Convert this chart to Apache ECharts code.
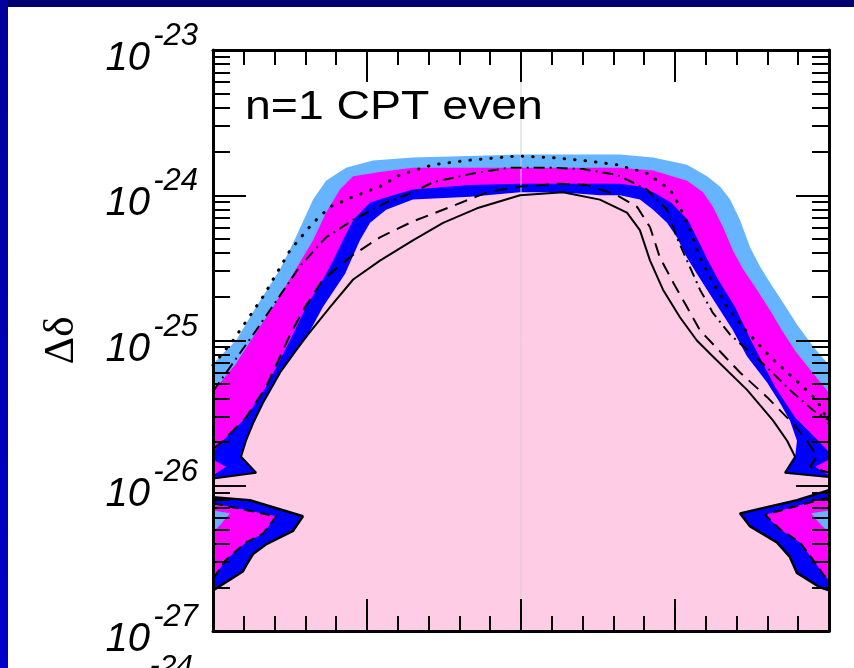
<!DOCTYPE html>
<html><head><meta charset="utf-8">
<script src="https://cdn.jsdelivr.net/npm/echarts@6/dist/echarts.min.js"></script>
<style>html,body{margin:0;padding:0;background:#fff}#c{width:854px;height:668px}</style>
</head><body><div id="c"></div>
<script>
// x: horizontal coordinate (0..20, labels cropped in the reference); y: log10(Δδ)
const xRange = [0, 20];
const yDecades = [-27, -26, -25, -24, -23];
const minorMultipliers = [2, 3, 4, 5, 6, 7, 8, 9];

// band boundaries (left edge -> right edge)
const lightBlueEdge = [[0,-25.16],[0.75,-25.00],[1.40,-24.77],[2.18,-24.51],[2.69,-24.29],[3.25,-24.03],[3.67,-23.90],[4.32,-23.81],[5.19,-23.76],[6.49,-23.74],[8.34,-23.73],[9.97,-23.72],[11.59,-23.72],[13.21,-23.72],[14.29,-23.74],[15.39,-23.79],[16.04,-23.87],[16.46,-23.94],[16.79,-24.03],[17.11,-24.17],[17.44,-24.36],[17.76,-24.49],[18.08,-24.60],[18.51,-24.74],[18.96,-24.89],[19.48,-25.04],[20,-25.17]];
const magentaEdge = [[0,-25.35],[0.71,-25.17],[1.23,-25.00],[1.95,-24.77],[2.60,-24.54],[3.25,-24.31],[3.67,-24.12],[4.12,-23.96],[4.55,-23.87],[5.42,-23.84],[6.49,-23.81],[8.34,-23.81],[9.97,-23.81],[11.59,-23.81],[13.21,-23.81],[14.29,-23.83],[15.39,-23.90],[15.91,-23.98],[16.23,-24.08],[16.56,-24.22],[16.88,-24.38],[17.21,-24.51],[17.66,-24.65],[18.08,-24.79],[18.47,-24.93],[18.90,-25.07],[19.38,-25.20],[20,-25.36]];
const blueEdge = [[0,-25.77],[0.32,-25.69],[1.07,-25.53],[1.72,-25.32],[2.50,-25.00],[3.02,-24.77],[3.57,-24.58],[3.90,-24.45],[4.22,-24.31],[4.55,-24.17],[5.10,-24.05],[5.84,-24.00],[6.49,-23.96],[8.34,-23.93],[9.97,-23.92],[11.59,-23.92],[13.21,-23.92],[13.86,-23.94],[14.29,-23.98],[14.87,-24.05],[15.42,-24.17],[15.75,-24.31],[16.07,-24.45],[16.40,-24.58],[16.95,-24.77],[17.47,-25.00],[18.25,-25.32],[18.90,-25.53],[19.65,-25.69],[20,-25.77]];
const pinkEdge = [[0,-25.95],[1.40,-25.91],[0.91,-25.80],[1.07,-25.69],[1.30,-25.57],[1.62,-25.43],[2.18,-25.22],[2.69,-25.07],[3.08,-24.96],[3.57,-24.77],[4.29,-24.54],[4.77,-24.31],[5.10,-24.19],[5.62,-24.10],[6.49,-24.03],[8.34,-24.01],[9.97,-23.98],[11.27,-23.98],[12.56,-24.00],[13.21,-24.00],[13.86,-24.03],[14.29,-24.10],[14.74,-24.19],[15.06,-24.29],[15.39,-24.43],[15.71,-24.54],[16.04,-24.65],[16.46,-24.79],[16.88,-24.93],[17.34,-25.11],[17.99,-25.29],[18.41,-25.43],[18.73,-25.55],[18.96,-25.69],[18.90,-25.80],[18.57,-25.91],[20,-25.94]];

// lower lobes and notches touching the side edges
const lobeOuterLeft = [[0,-26.08],[1.20,-26.10],[2.92,-26.21],[2.60,-26.31],[1.75,-26.40],[1.30,-26.47],[1.10,-26.54],[0.97,-26.59],[0,-26.72]];
const lobeOuterRight = [[20,-26.03],[18.96,-26.10],[17.11,-26.19],[17.44,-26.28],[18.31,-26.39],[18.73,-26.49],[18.96,-26.60],[19.71,-26.70],[20,-26.72]];
const lobeInnerLeft = [[0,-26.12],[2.05,-26.21],[1.62,-26.33],[1.07,-26.39],[0.42,-26.51],[0.10,-26.61],[0,-26.64]];
const lobeInnerRight = [[20,-26.08],[19.29,-26.12],[17.92,-26.20],[18.41,-26.30],[19.06,-26.39],[19.48,-26.51],[19.81,-26.61],[20,-26.65]];
const lobeCoreLeft = [[0,-26.17],[0.55,-26.19],[0.23,-26.27],[0,-26.32]];
const lobeCoreRight = [[20,-26.17],[19.42,-26.19],[19.74,-26.27],[20,-26.32]];
const notchMagentaLeft = [[0,-25.82],[0.42,-25.87],[0,-25.93]];
const notchMagentaRight = [[20,-25.82],[19.55,-25.87],[20,-25.93]];

// contour lines
const solidCurve = [[0,-25.95],[1.40,-25.91],[0.91,-25.80],[1.07,-25.69],[1.30,-25.57],[1.62,-25.43],[2.18,-25.22],[2.69,-25.07],[3.08,-24.96],[3.80,-24.77],[4.55,-24.58],[5.42,-24.45],[6.49,-24.31],[7.47,-24.19],[8.57,-24.09],[9.97,-24.00],[11.36,-23.98],[12.56,-24.03],[13.44,-24.12],[13.86,-24.24],[14.19,-24.45],[14.61,-24.65],[15.16,-24.84],[15.71,-25.00],[16.23,-25.11],[17.34,-25.34],[18.18,-25.55],[18.64,-25.69],[18.90,-25.80],[18.57,-25.91],[20,-25.94]];
const dashCurve = [[0,-25.75],[0.32,-25.69],[1.07,-25.53],[1.72,-25.32],[2.27,-25.07],[2.50,-24.96],[2.99,-24.77],[3.57,-24.58],[4.55,-24.41],[5.42,-24.29],[6.49,-24.18],[7.47,-24.10],[8.90,-23.98],[9.97,-23.94],[11.27,-23.92],[12.14,-23.93],[13.12,-24.00],[13.77,-24.08],[14.19,-24.22],[14.51,-24.43],[14.94,-24.60],[15.39,-24.77],[15.81,-24.93],[17.11,-25.22],[17.99,-25.39],[18.73,-25.55],[19.29,-25.69],[19.61,-25.80],[19.38,-25.87],[20,-25.91]];
const dashDotCurve = [[0,-25.35],[1.40,-24.93],[2.82,-24.49],[3.67,-24.29],[4.55,-24.17],[5.62,-24.05],[6.49,-23.98],[7.14,-23.91],[8.44,-23.85],[9.64,-23.81],[10.94,-23.81],[12.01,-23.82],[13.12,-23.86],[14.09,-23.96],[14.74,-24.10],[15.06,-24.29],[15.39,-24.45],[15.81,-24.65],[16.23,-24.81],[16.79,-24.96],[17.86,-25.16],[18.73,-25.34],[19.48,-25.48],[20,-25.55]];
const dotCurve = [[0,-25.17],[0.65,-25.00],[1.62,-24.70],[2.50,-24.38],[3.25,-24.19],[3.80,-24.08],[4.55,-24.01],[5.42,-23.94],[6.07,-23.86],[7.14,-23.79],[8.25,-23.76],[9.32,-23.74],[9.87,-23.73],[10.94,-23.74],[12.01,-23.76],[13.12,-23.79],[14.09,-23.85],[14.84,-23.96],[15.16,-24.08],[15.49,-24.24],[15.81,-24.43],[16.23,-24.60],[16.69,-24.77],[17.21,-24.91],[18.08,-25.11],[18.64,-25.22],[19.16,-25.32],[19.61,-25.41],[20,-25.57]];
const centerLine = [[10,-27],[10,-23]];

const yMin = yDecades[0], yMax = yDecades[yDecades.length - 1];
const yMinor = [];
yDecades.slice(0, -1).forEach(d => minorMultipliers.forEach(k => yMinor.push(d + Math.log10(k))));

const rev = a => a.slice().reverse();
const base = [[xRange[0], yMin], [xRange[1], yMin]];
const polyLightBlue = base.concat(rev(lightBlueEdge));
const polyMagenta = base.concat(rev(lobeCoreRight), rev(magentaEdge), lobeCoreLeft);
const polyBlue = base.concat(rev(lobeInnerRight), rev(notchMagentaRight), rev(blueEdge), notchMagentaLeft, lobeInnerLeft);
const polyPink = base.concat(rev(lobeOuterRight), rev(pinkEdge), lobeOuterLeft);

function polySeries(points, color) {
  return {
    type: 'custom', data: points, clip: true, silent: true,
    renderItem: function (params, api) {
      if (params.dataIndex !== 0) return null;
      return { type: 'polygon', shape: { points: points.map(p => api.coord(p)) }, style: { fill: color } };
    }
  };
}
function lineSeries(data, style) {
  return { type: 'line', data: data, showSymbol: false, symbol: 'none', silent: true, clip: true,
    lineStyle: Object.assign({ color: '#000', width: 2 }, style) };
}

const black = '#000';
const axisLine = { show: true, onZero: false, lineStyle: { color: black, width: 3 } };
const noLine = { show: false, onZero: false };
function xAx(pos) {
  return { type: 'value', min: xRange[0], max: xRange[1], interval: 5, position: pos, z: 10,
    axisLine: axisLine,
    axisTick: { show: true, inside: true, length: 32, lineStyle: { color: black, width: 2 } },
    minorTick: { show: true, splitNumber: 5, length: 15, lineStyle: { color: black, width: 2 } },
    axisLabel: { show: false }, splitLine: { show: false }, minorSplitLine: { show: false } };
}
function yMajor(pos) {
  return { type: 'value', min: yMin, max: yMax, interval: 1, position: pos, z: 10,
    axisLine: axisLine,
    axisTick: { show: true, inside: true, length: 33, lineStyle: { color: black, width: 2 } },
    splitLine: { show: false }, axisLabel: { show: false } };
}
function yMinorAx(pos) {
  return { type: 'value', min: yMin, max: yMax, position: pos, z: 10,
    axisLine: noLine,
    axisTick: { show: true, inside: true, length: 17, customValues: yMinor, lineStyle: { color: black, width: 2 } },
    axisLabel: { show: false }, splitLine: { show: false } };
}
// base "10" of the tick labels, with the axis title
const yBaseLabels = yMajor('left');
yBaseLabels.axisLabel = { show: true, margin: 63, showMinLabel: true, showMaxLabel: true,
  formatter: () => '10', fontSize: 40, fontStyle: 'italic', fontFamily: 'Liberation Sans', color: black,
  lineHeight: 18, verticalAlign: 'top' };
yBaseLabels.name = 'Δδ';
yBaseLabels.nameLocation = 'middle';
yBaseLabels.nameRotate = 90;
yBaseLabels.nameGap = 130;
yBaseLabels.nameTextStyle = { fontSize: 43, fontFamily: 'Liberation Serif', color: black };
// exponents of the tick labels
const yExpLabels = { type: 'value', min: yMin, max: yMax, interval: 1, position: 'left', z: 10,
  axisLine: noLine, axisTick: { show: false }, splitLine: { show: false },
  axisLabel: { show: true, margin: 15, showMinLabel: true, showMaxLabel: true,
    formatter: v => String(Math.round(v)), fontSize: 31, fontStyle: 'italic', fontFamily: 'Liberation Sans', color: black,
    lineHeight: 27, verticalAlign: 'bottom' } };

const chart = echarts.init(document.getElementById('c'), null, { renderer: 'canvas' });
chart.setOption({
  animation: false,
  backgroundColor: '#fff',
  grid: { left: 213, right: 25, top: 50, bottom: 37, containLabel: false },
  xAxis: [xAx('bottom'), xAx('top')],
  yAxis: [yBaseLabels, yMinorAx('left'), yMajor('right'), yMinorAx('right'), yExpLabels],
  series: [
    polySeries(polyLightBlue, '#66b3ff'),
    polySeries(polyMagenta, '#ff00ff'),
    polySeries(polyBlue, '#0000ff'),
    polySeries(polyPink, '#ffcce6'),
    lineSeries(centerLine, { color: '#d0d0d0', width: 1 }),
    lineSeries(solidCurve, { width: 2 }),
    lineSeries(lobeOuterLeft, { width: 2.5 }),
    lineSeries(lobeOuterRight, { width: 2.5 }),
    lineSeries(dashCurve, { width: 2, type: [13, 8] }),
    lineSeries(lobeInnerLeft, { width: 2, type: [10, 6] }),
    lineSeries(lobeInnerRight, { width: 2, type: [10, 6] }),
    lineSeries(dashDotCurve, { width: 2, type: [11, 5, 2, 5] }),
    lineSeries(dotCurve, { width: 3, type: [0.5, 10], cap: 'round' })
  ],
  graphic: [
    { type: 'rect', silent: true, shape: { x: 0, y: 0, width: 854, height: 7 }, style: { fill: '#000070' } },
    { type: 'rect', silent: true, shape: { x: 0, y: 0, width: 8, height: 668 },
      style: { fill: { type: 'linear', x: 0, y: 0, x2: 0, y2: 1, colorStops: [{ offset: 0, color: '#00009a' }, { offset: 1, color: '#0000cc' }] } } },
    { type: 'text', silent: true, x: 245, y: 108, scaleX: 1.16, z: 100,
      style: { text: 'n=1 CPT even', font: '40px "Liberation Sans"', fill: black, align: 'left', verticalAlign: 'middle' } },
    { type: 'text', silent: true, x: 193, y: 652, z: 100,
      style: { text: '-24', font: 'italic 30px "Liberation Sans"', fill: black, align: 'right', verticalAlign: 'top' } }
  ]
});
</script>
</body></html>
